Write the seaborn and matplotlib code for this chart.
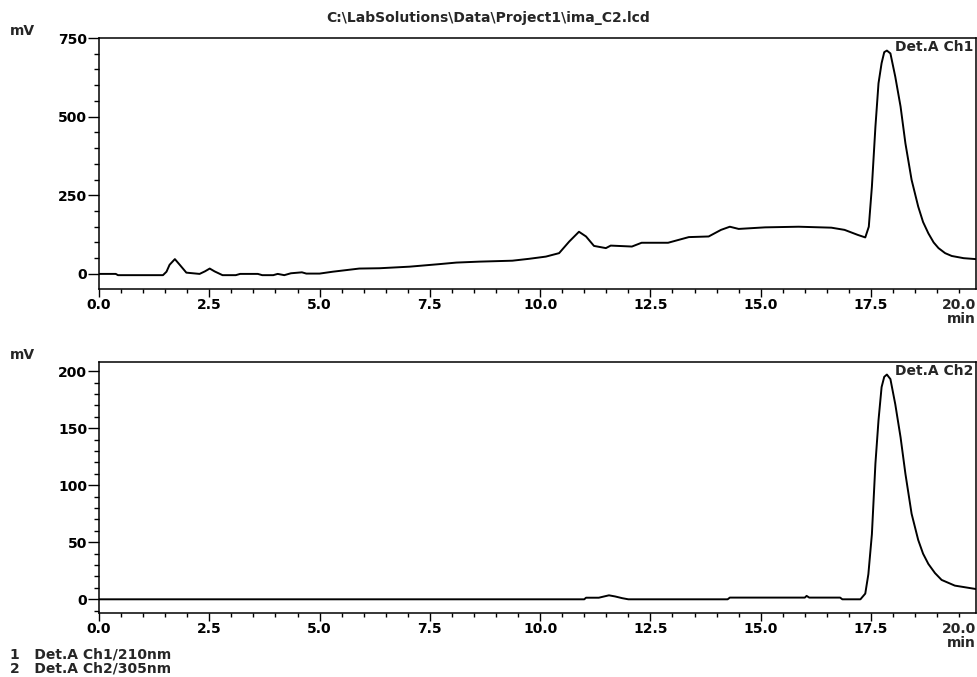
import numpy as np
import pandas as pd
import matplotlib
matplotlib.use("Agg")
import matplotlib.pyplot as plt
from matplotlib.ticker import MultipleLocator, FormatStrFormatter
import seaborn as sns

# chromatogram traces (time in min, signal in mV)
t_ch1 = [0.0, 0.38, 0.43, 1.45, 1.53, 1.6, 1.72, 1.83, 1.98, 2.28, 2.4, 2.51, 2.62, 2.74,
         2.8, 3.1, 3.2, 3.6, 3.7, 3.95, 4.05, 4.2, 4.35, 4.6, 4.7, 5.0, 5.3, 5.9, 6.36,
         7.04, 7.71, 8.1, 8.62, 9.37, 9.75, 10.13, 10.43, 10.66, 10.88, 11.04, 11.22,
         11.49, 11.6, 12.08, 12.3, 12.9, 13.37, 13.82, 14.1, 14.3, 14.5, 15.1, 15.86,
         16.6, 16.9, 17.2, 17.37, 17.45, 17.52, 17.6, 17.67, 17.74, 17.8, 17.86, 17.94,
         18.05, 18.17, 18.28, 18.42, 18.57, 18.68, 18.8, 18.92, 19.03, 19.18, 19.33,
         19.6, 19.88]
mv_ch1 = [0, 0, -4, -4, 7, 29, 47, 29, 4, 0, 8, 17, 8, 0,
          -4, -4, 0, 0, -4, -4, 0, -4, 2, 5, 1, 1, 7, 17, 18,
          23, 31, 36, 39, 42, 48, 55, 66, 103, 134, 119, 89,
          82, 90, 87, 99, 99, 117, 119, 140, 150, 143, 148, 150,
          147, 140, 124, 116, 150, 277, 468, 606, 670, 705, 710, 701,
          627, 532, 415, 299, 214, 165, 129, 100, 82, 66, 57,
          50, 47]

t_ch2 = [0.0, 11.0, 11.04, 11.33, 11.45, 11.56, 11.7, 11.86, 12.0, 14.25, 14.3, 16.0,
         16.04, 16.1, 16.8, 16.85, 17.26, 17.37, 17.44, 17.52, 17.6, 17.67, 17.74,
         17.8, 17.86, 17.94, 18.05, 18.17, 18.28, 18.42, 18.57, 18.68, 18.8, 18.95,
         19.1, 19.4, 19.88]
mv_ch2 = [0, 0, 1.4, 1.4, 2.5, 3.5, 2.5, 1, 0, 0, 1.5, 1.5,
          3, 1.5, 1.5, 0, 0, 5, 22, 57, 119, 157, 186,
          195, 197, 193, 171, 142, 110, 75, 52, 40, 31, 23,
          17, 12, 9]

file_name = "C:\\LabSolutions\\Data\\Project1\\ima_C2.lcd"
peak_labels = ["Det.A Ch1", "Det.A Ch2"]
legend_lines = ["1   Det.A Ch1/210nm", "2   Det.A Ch2/305nm"]

sns.set_style("ticks")
plt.rcParams["font.family"] = ["DejaVu Sans"]
plt.rcParams["font.weight"] = "bold"
plt.rcParams["axes.edgecolor"] = "black"
plt.rcParams["xtick.color"] = "black"
plt.rcParams["ytick.color"] = "black"

W, H = 977, 677
fig = plt.figure(figsize=(W / 100, H / 100), dpi=100)

panels = [
    dict(t=t_ch1, v=mv_ch1, top=38, bottom=289, ylim=(-48, 750), major=250, minor=50, label=peak_labels[0]),
    dict(t=t_ch2, v=mv_ch2, top=362, bottom=613, ylim=(-12, 208), major=50, minor=10, label=peak_labels[1]),
]

for p in panels:
    ax = fig.add_axes([99 / W, 1 - p["bottom"] / H, (976 - 99) / W, (p["bottom"] - p["top"]) / H])
    df = pd.DataFrame({"time": p["t"], "mV": p["v"]})
    sns.lineplot(data=df, x="time", y="mV", ax=ax, color="black", lw=1.4)
    ax.set_xlim(0, 19.88)
    ax.set_ylim(*p["ylim"])
    ax.set_xlabel("")
    ax.set_ylabel("")

    ax.xaxis.set_major_locator(MultipleLocator(2.5))
    ax.xaxis.set_minor_locator(MultipleLocator(0.5))
    ax.xaxis.set_major_formatter(FormatStrFormatter("%.1f"))
    ax.yaxis.set_major_locator(MultipleLocator(p["major"]))
    ax.yaxis.set_minor_locator(MultipleLocator(p["minor"]))
    ax.yaxis.set_major_formatter(FormatStrFormatter("%d"))

    ax.tick_params(axis="x", which="major", length=5.5, width=1, pad=1, labelsize=10)
    ax.tick_params(axis="x", which="minor", length=3, width=1)
    ax.tick_params(axis="y", which="major", length=8, width=1, pad=0.5, labelsize=10)
    ax.tick_params(axis="y", which="minor", length=3.5, width=1)
    for s in ax.spines.values():
        s.set_linewidth(1.1)

    # last tick label sits past the axis end, as in the source printout
    ax.annotate("20.0", xy=(1, 0), xycoords="axes fraction", xytext=(0, -9),
                textcoords="offset pixels", ha="right", va="top", fontsize=10,
                annotation_clip=False)
    ax.annotate("min", xy=(1, 0), xycoords="axes fraction", xytext=(0, -30),
                textcoords="offset pixels", ha="right", va="center", fontsize=10,
                annotation_clip=False)

    i = int(np.argmax(p["v"]))
    ax.annotate(p["label"], xy=(p["t"][i], p["v"][i]), xytext=(8, 0),
                textcoords="offset pixels", ha="left", va="baseline", fontsize=10,
                annotation_clip=False)

    fig.text(10 / W, 1 - (p["top"] - 7) / H, "mV", ha="left", va="center", fontsize=10)

fig.text(0.5, 1 - 18 / H, file_name, ha="center", va="center", fontsize=10)
fig.text(10 / W, 1 - 655 / H, legend_lines[0], ha="left", va="center", fontsize=10)
fig.text(10 / W, 1 - 669 / H, legend_lines[1], ha="left", va="center", fontsize=10)

fig.savefig("out.png", dpi=100)
